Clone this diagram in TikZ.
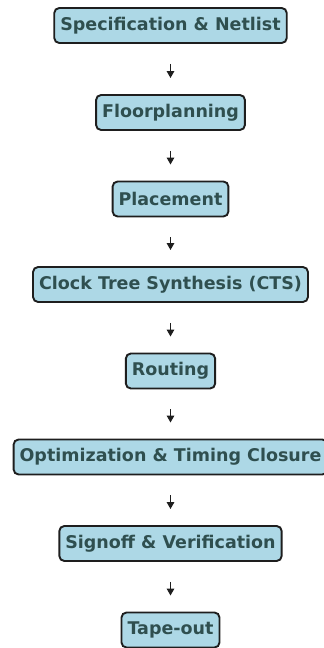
\documentclass[tikz,border=0pt]{standalone}
\usepackage{fontspec}
\setmainfont{DejaVu Sans}
\usetikzlibrary{arrows.meta}
\definecolor{stagefill}{HTML}{ADD8E6}
\definecolor{stagetext}{HTML}{2F4F4F}
\definecolor{stageedge}{HTML}{1E1E1E}
\begin{document}
\begin{tikzpicture}[x=1pt,y=-1pt,
  stage/.style={draw=stageedge, line width=1.9pt, fill=stagefill, rounded corners=5pt,
    text=stagetext, font=\bfseries\fontsize{17.5}{20}\selectfont,
    minimum height=35pt, inner xsep=6pt, inner ysep=0pt},
  flow/.style={line width=1.5pt, draw=stageedge, -{Triangle[length=7pt,width=7.5pt]},
    shorten <=20pt, shorten >=16pt}]
  \useasboundingbox (0,0) rectangle (324,648);
  \node[stage] (spec)  at (170.5,25.5)  {Specification \& Netlist};
  \node[stage] (floor) at (170.5,112.5) {Floorplanning};
  \node[stage] (place) at (170.5,199)   {Placement};
  \node[stage] (cts)   at (170.5,284.5) {Clock Tree Synthesis (CTS)};
  \node[stage] (route) at (170.5,371)   {Routing};
  \node[stage] (opt)   at (170.5,457)   {Optimization \& Timing Closure};
  \node[stage] (sign)  at (170.5,543.5) {Signoff \& Verification};
  \node[stage] (tape)  at (170.5,630)   {Tape-out};
  \foreach \a/\b in {spec/floor, floor/place, place/cts, cts/route,
                     route/opt, opt/sign, sign/tape}
    \draw[flow] (\a.south) -- (\b.north);
\end{tikzpicture}
\end{document}
